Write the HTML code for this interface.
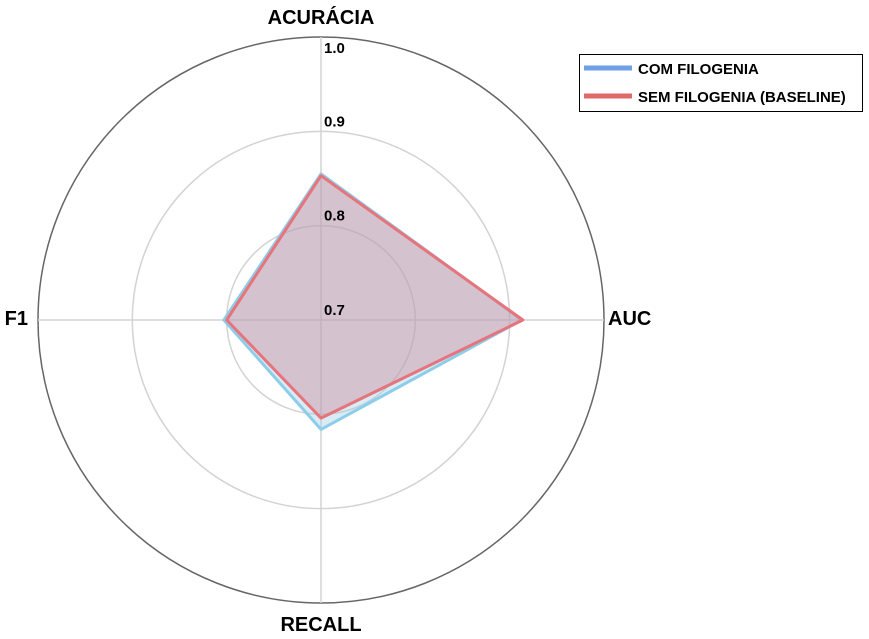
<!DOCTYPE html>
<html><head><meta charset="utf-8"><style>
body{margin:0;background:#fff;width:869px;height:634px;overflow:hidden}
svg{font-family:"Liberation Sans",sans-serif;font-weight:bold}
</style></head><body>
<svg id="chart" width="869" height="634">
<g id="grid"></g><g id="series"></g><g id="labels"></g>
<g>
<rect x="579.5" y="54.5" width="283" height="57" fill="#fff" stroke="#000"/>
<line x1="584" y1="68" x2="632" y2="68" stroke="#6fa0e8" stroke-width="5"/>
<text x="638" y="74" font-size="15">COM FILOGENIA</text>
<line x1="584" y1="96" x2="632" y2="96" stroke="#e06a6a" stroke-width="5"/>
<text x="638" y="102" font-size="15">SEM FILOGENIA (BASELINE)</text>
</g>
</svg>
<script>
const categories=["ACURÁCIA","AUC","RECALL","F1"];
const comValues=[0.855,0.913,0.816,0.803];
const semValues=[0.853,0.914,0.804,0.800];
const tickValues=[0.7,0.8,0.9,1.0];
const tickLabels=["0.7","0.8","0.9","1.0"];
const NS="http://www.w3.org/2000/svg";
const cx=321,cy=320,R=283,vmin=0.7,vmax=1.0;
function r(v){return (v-vmin)/(vmax-vmin)*R;}
function ang(i){return -Math.PI/2+i*2*Math.PI/categories.length;}
function pt(i,v){return [cx+r(v)*Math.cos(ang(i)),cy+r(v)*Math.sin(ang(i))];}
function mk(tag,attrs,parent){const e=document.createElementNS(NS,tag);for(const k in attrs)e.setAttribute(k,attrs[k]);parent.appendChild(e);return e;}
const grid=document.getElementById('grid'),ser=document.getElementById('series'),lab=document.getElementById('labels');
tickValues.forEach((t,i)=>{if(r(t)<=0)return;
 const c=mk('circle',{cx:cx,cy:cy,r:r(t),fill:'none',stroke:t>=vmax?'#666':'#d3d3d3','stroke-width':1.5},grid);
 
 });
categories.forEach((c,i)=>{const p=pt(i,vmax);
 const l=mk('line',{x1:cx,y1:cy,x2:p[0],y2:p[1],stroke:'#d3d3d3','stroke-width':1.5},grid);
 
 
 const lp=[cx+(R+18)*Math.cos(ang(i)),cy+(R+18)*Math.sin(ang(i))];
 let anchor='middle',dy=5;if(Math.abs(Math.cos(ang(i)))>0.5){anchor=Math.cos(ang(i))>0?'start':'end';}
 if(i===0)dy=5;if(i===2)dy=10;
 const tx=mk('text',{x:lp[0]+(anchor==='start'?-14:anchor==='end'?8:0),y:lp[1]+dy,'text-anchor':anchor,'font-size':20},lab);
 tx.textContent=c;
 
 });
tickValues.forEach((t,i)=>{const y=cy-r(t)-(t>=vmax?-16:5);
 const tx=mk('text',{x:cx+3,y:y,'font-size':15},lab);tx.textContent=tickLabels[i];
 
 });
function poly(vals,stroke,fill,op,name){const pts=vals.map((v,i)=>pt(i,v).join(',')).join(' ');
 const p=mk('polygon',{points:pts,fill:fill,'fill-opacity':op,stroke:stroke,'stroke-width':3,'stroke-linejoin':'round'},ser);
 
 }
poly(comValues,'#8ecdea','#9ccfe6',0.4,'series-com-filogenia');
poly(semValues,'#e7737b','#cf8596',0.4,'series-sem-filogenia');
</script>
</body></html>
